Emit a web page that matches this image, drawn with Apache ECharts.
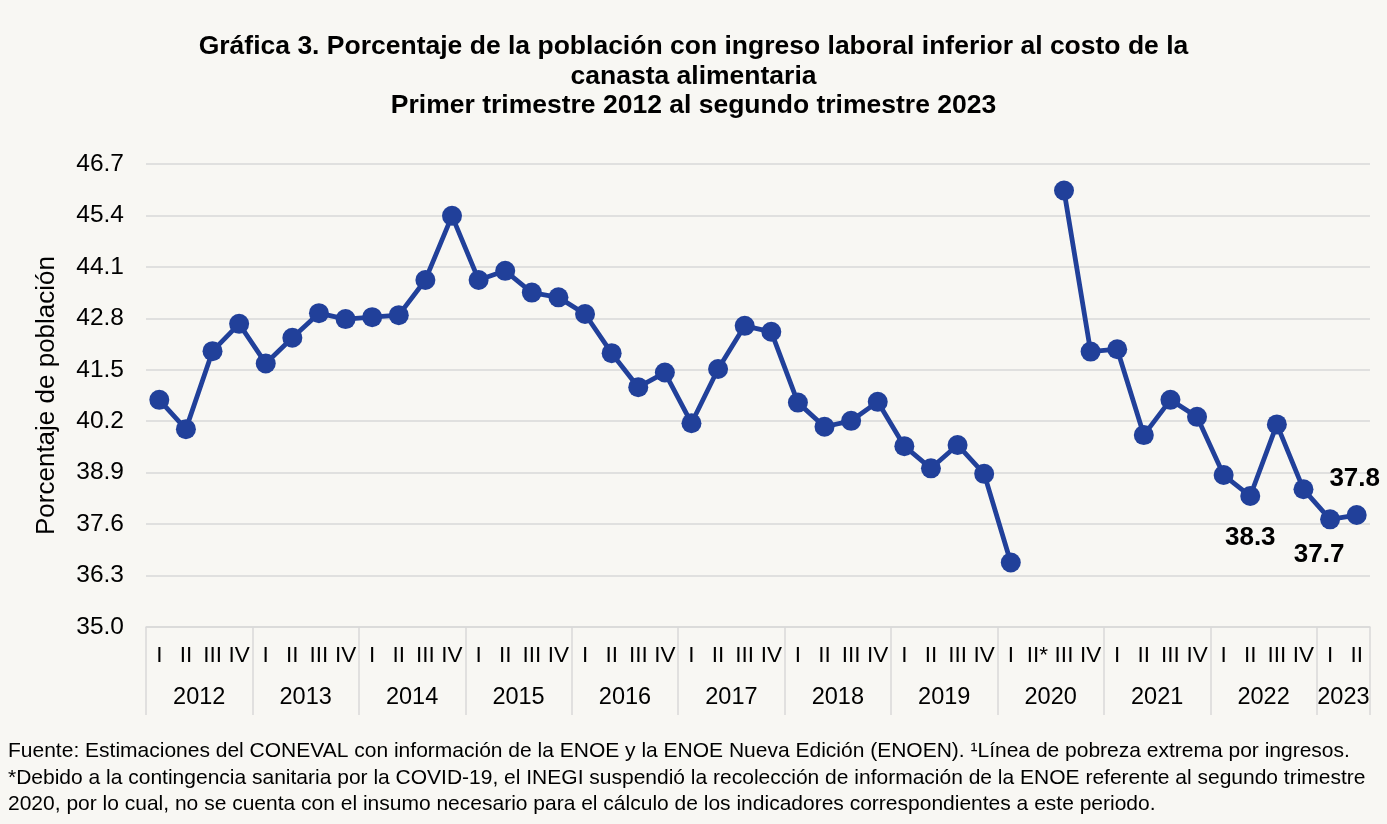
<!DOCTYPE html>
<html>
<head>
<meta charset="utf-8">
<script src="https://cdn.jsdelivr.net/npm/echarts@6/dist/echarts.min.js"></script>
<style>
html,body{margin:0;padding:0;background:#F8F7F3;}
#chart{width:1387px;height:824px;}
</style>
</head>
<body>
<div id="chart"></div>
<script>
const years = ['2012','2013','2014','2015','2016','2017','2018','2019','2020','2021','2022','2023'];
const quarterLabels = [
  'I','II','III','IV', 'I','II','III','IV', 'I','II','III','IV', 'I','II','III','IV',
  'I','II','III','IV', 'I','II','III','IV', 'I','II','III','IV', 'I','II','III','IV',
  'I','II*','III','IV', 'I','II','III','IV', 'I','II','III','IV', 'I','II'
];
const values = [
  40.74, 40.00, 41.97, 42.66,
  41.66, 42.31, 42.93, 42.78,
  42.83, 42.88, 43.77, 45.39,
  43.77, 44.00, 43.45, 43.33,
  42.91, 41.92, 41.06, 41.43,
  40.15, 41.52, 42.61, 42.46,
  40.67, 40.06, 40.21, 40.69,
  39.57, 39.01, 39.60, 38.87,
  36.63, null, 46.03, 41.96,
  42.02, 39.85, 40.74, 40.31,
  38.84, 38.31, 40.12, 38.48,
  37.72, 37.83
];
const labelledIndex = [41, 44, 45];
const titleLines = [
  'Gráfica 3. Porcentaje de la población con ingreso laboral inferior al costo de la',
  'canasta alimentaria',
  'Primer trimestre 2012 al segundo trimestre 2023'
];
const footLines = [
  'Fuente: Estimaciones del CONEVAL con información de la ENOE y la ENOE Nueva Edición (ENOEN). ¹Línea de pobreza extrema por ingresos.',
  '*Debido a la contingencia sanitaria por la COVID-19, el INEGI suspendió la recolección de información de la ENOE referente al segundo trimestre',
  '2020, por lo cual, no se cuenta con el insumo necesario para el cálculo de los indicadores correspondientes a este periodo.'
];

// year of each category point
const yearOfPoint = quarterLabels.map((q, i) => years[Math.floor(i / 4)]);

const FONT = '"Liberation Sans", Arial, sans-serif';
const BLUE = '#21409A';

const labelStyles = {
  41: {show: true, position: 'bottom', distance: 19, offset: [0, 0]},
  44: {show: true, position: 'bottom', distance: 12, offset: [-11, 0]},
  45: {show: true, position: 'top', distance: 13, offset: [-2, 0]}
};

const seriesData = values.map((v, i) => {
  if (labelledIndex.indexOf(i) >= 0) {
    return {value: v, label: Object.assign({
      formatter: p => p.value.toFixed(1),
      fontFamily: FONT, fontSize: 26, fontWeight: 'bold', color: '#000'
    }, labelStyles[i])};
  }
  return v;
});

const chart = echarts.init(document.getElementById('chart'), null, {renderer: 'canvas'});
chart.setOption({
  backgroundColor: '#F8F7F3',
  animation: false,
  title: {
    text: titleLines.join('\n'),
    left: 'center',
    top: 27,
    textStyle: {fontFamily: FONT, fontSize: 26.5, fontWeight: 'bold', color: '#000', lineHeight: 29.5}
  },
  graphic: [{
    type: 'text',
    left: 8,
    top: 738,
    style: {
      text: footLines.join('\n'),
      font: '21px ' + FONT,
      fill: '#000',
      lineHeight: 26.5
    }
  }],
  grid: {left: 146, right: 17, top: 164, bottom: 197, containLabel: false},
  xAxis: [{
    type: 'category',
    data: quarterLabels,
    boundaryGap: true,
    position: 'bottom',
    axisLine: {show: true, lineStyle: {color: '#D9D9D9', width: 1.5}},
    axisTick: {show: true, interval: (i) => i % 4 === 0, length: 88, lineStyle: {color: '#D9D9D9', width: 1.5}},
    axisLabel: {interval: 0, margin: 17, fontFamily: FONT, fontSize: 22.5, color: '#000'},
    splitLine: {show: false}
  }, {
    type: 'category',
    data: yearOfPoint,
    boundaryGap: true,
    position: 'bottom',
    axisLine: {show: false},
    axisTick: {show: false},
    axisLabel: {
      interval: (i) => (i % 4 === 1 && i < 44) || i === 44,
      margin: 59,
      padding: [0, 0, 0, 26.6],
      fontFamily: FONT, fontSize: 23.5, color: '#000'
    },
    splitLine: {show: false}
  }],
  yAxis: {
    type: 'value',
    min: 35,
    max: 46.7,
    interval: 1.3,
    name: 'Porcentaje de población',
    nameLocation: 'middle',
    nameGap: 86,
    nameTextStyle: {fontFamily: FONT, fontSize: 26, color: '#000'},
    axisLine: {show: false},
    axisTick: {show: false},
    axisLabel: {margin: 22, fontFamily: FONT, fontSize: 24.5, color: '#000', formatter: v => v.toFixed(1)},
    splitLine: {show: true, lineStyle: {color: '#D9D9D9', width: 1.5}}
  },
  series: [{
    type: 'line',
    data: seriesData,
    xAxisIndex: 0,
    connectNulls: false,
    symbol: 'circle',
    symbolSize: 20,
    lineStyle: {color: BLUE, width: 4.8},
    itemStyle: {color: BLUE},
    label: {show: false}
  }]
});
</script>
</body>
</html>
